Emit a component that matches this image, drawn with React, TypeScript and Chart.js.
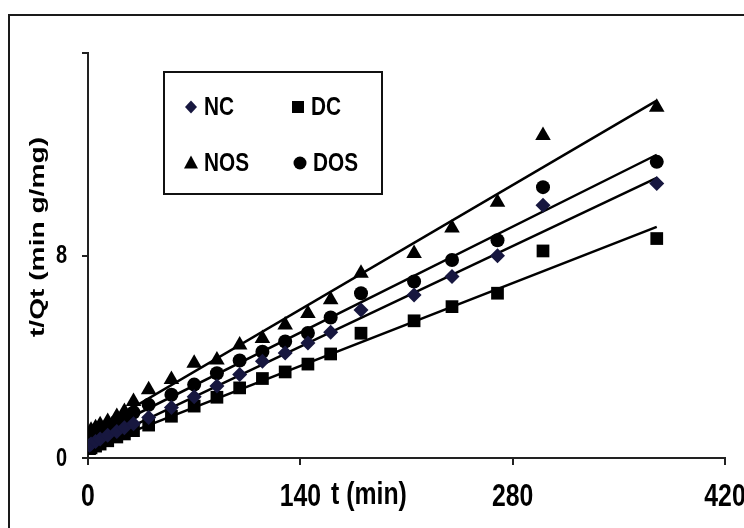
import React, { useEffect, useRef } from 'react';
import { Chart, registerables } from 'chart.js';

Chart.register(...registerables);

// ---- data ----
const times = [1, 2, 5, 8, 13, 19, 24, 30, 40, 55, 70, 85, 100, 115, 130, 145, 160, 180, 215, 240, 270, 300, 375];
const ncValues = [0.5, 0.55, 0.65, 0.75, 0.9, 1.05, 1.2, 1.35, 1.6, 2.0, 2.42, 2.84, 3.3, 3.82, 4.15, 4.54, 4.97, 5.85, 6.44, 7.17, 7.99, 9.99, 10.84];
const dcValues = [0.37, 0.4, 0.47, 0.55, 0.68, 0.83, 0.95, 1.08, 1.3, 1.65, 2.05, 2.4, 2.77, 3.14, 3.4, 3.71, 4.11, 4.93, 5.42, 5.98, 6.51, 8.18, 8.67];
const nosValues = [0.95, 1.1, 1.2, 1.31, 1.44, 1.64, 1.84, 2.23, 2.7, 3.1, 3.74, 3.87, 4.46, 4.72, 5.25, 5.71, 6.25, 7.3, 8.08, 9.09, 10.1, 12.74, 13.86];
const dosValues = [0.7, 0.8, 0.95, 1.1, 1.25, 1.45, 1.6, 1.8, 2.1, 2.5, 2.9, 3.35, 3.85, 4.2, 4.6, 4.94, 5.55, 6.51, 6.97, 7.82, 8.6, 10.7, 11.7];

const seriesLabels = ['NC', 'DC', 'NOS', 'DOS'];
// linear trend lines: value at t = trendT[0] and t = trendT[1]
const trendT = [0, 375];
const trendStart = [0.43, 0.36, 0.95, 0.77];
const trendEnd = [11.07, 9.13, 14.12, 11.98];

const xTicks = [0, 140, 280, 420];
const yTicks = [0, 8, 16];
const yLabelled = [0, 8];
const xTitle = 't (min)';
const yTitle = 't/Qt (min g/mg)';

const FONT = "'Liberation Sans',Arial,sans-serif";
const NAVY = '#17173f';
const SQUEEZE = 0.8; // the reference's lettering is tall and narrow

const styles = [
  { pointStyle: 'rectRot', radius: 7.5, color: NAVY },
  { pointStyle: 'rect', radius: 9, color: '#000' },
  { pointStyle: 'triangle', radius: 9, color: '#000' },
  { pointStyle: 'circle', radius: 7, color: '#000' },
];

function drawMarker(ctx: CanvasRenderingContext2D, kind: string, x: number, y: number) {
  ctx.beginPath();
  if (kind === 'rectRot') {
    ctx.moveTo(x, y - 6.5); ctx.lineTo(x + 6, y); ctx.lineTo(x, y + 6.5); ctx.lineTo(x - 6, y);
  } else if (kind === 'rect') {
    ctx.rect(x - 6, y - 6, 12, 12);
  } else if (kind === 'triangle') {
    ctx.moveTo(x, y - 7.5); ctx.lineTo(x + 7, y + 5.5); ctx.lineTo(x - 7, y + 5.5);
  } else {
    ctx.arc(x, y, 6.5, 0, Math.PI * 2);
  }
  ctx.closePath();
  ctx.fill();
}

function narrowText(ctx: CanvasRenderingContext2D, text: string, x: number, y: number, size: number, align: 'left' | 'center' | 'right') {
  ctx.save();
  ctx.font = `bold ${size}px ${FONT}`;
  ctx.textBaseline = 'middle';
  ctx.textAlign = align;
  ctx.translate(x, y);
  ctx.scale(SQUEEZE, 1);
  ctx.fillText(text, 0, 0);
  ctx.restore();
}

const decor = {
  id: 'decor',
  afterDraw(chart: any) {
    const ctx: CanvasRenderingContext2D = chart.ctx;
    const xs = chart.scales.x;
    const ys = chart.scales.y;
    ctx.save();
    // outer frame
    ctx.strokeStyle = '#1a1a1a';
    ctx.lineWidth = 2;
    ctx.strokeRect(9, 15, 800, 600);

    ctx.fillStyle = '#000';
    // tick labels, placed by the scales
    xs.ticks.forEach((t: any) => {
      narrowText(ctx, String(t.value), xs.getPixelForValue(t.value), xs.bottom - 31, 31, 'center');
    });
    ys.ticks.forEach((t: any) => {
      if (yLabelled.includes(t.value)) {
        narrowText(ctx, String(t.value), ys.right - 21, ys.getPixelForValue(t.value) + 1, 25, 'right');
      }
    });
    // x title
    narrowText(ctx, xTitle, 369, 495, 31, 'center');

    // y title (rotated, stretched along its length)
    ctx.save();
    ctx.translate(38, 237);
    ctx.rotate(-Math.PI / 2);
    ctx.font = `bold 20px ${FONT}`;
    ctx.textAlign = 'center';
    ctx.textBaseline = 'middle';
    const w = ctx.measureText(yTitle).width;
    ctx.scale(200 / w, 1);
    ctx.fillText(yTitle, 0, 0);
    ctx.restore();

    // legend box
    ctx.lineWidth = 2;
    ctx.strokeStyle = '#111';
    ctx.strokeRect(164, 72, 218, 122);
    const pos = [[191, 107], [298, 107], [191, 163], [300, 163]];
    seriesLabels.forEach((lab, i) => {
      const [x, y] = pos[i];
      ctx.fillStyle = styles[i].color;
      drawMarker(ctx, styles[i].pointStyle, x, y);
      ctx.fillStyle = '#000';
      narrowText(ctx, lab, x + 13, y + 1, 26, 'left');
    });
    ctx.restore();
  },
};

export default function App() {
  const ref = useRef<HTMLCanvasElement | null>(null);
  useEffect(() => {
    if (!ref.current) return;
    const series = [ncValues, dcValues, nosValues, dosValues];
    const trendSets = series.map((_, i) => ({
      type: 'line' as const,
      label: seriesLabels[i] + ' fit',
      data: [{ x: trendT[0], y: trendStart[i] }, { x: trendT[1], y: trendEnd[i] }],
      borderColor: '#000',
      borderWidth: 2.5,
      pointRadius: 0,
      showLine: true,
      fill: false,
    }));
    const pointSets = series.map((vals, i) => ({
      type: 'scatter' as const,
      label: seriesLabels[i],
      data: times.map((t, j) => ({ x: t, y: vals[j] })),
      pointStyle: styles[i].pointStyle,
      pointRadius: styles[i].radius,
      backgroundColor: styles[i].color,
      borderColor: styles[i].color,
      borderWidth: 0,
      showLine: false,
    }));
    const chart = new Chart(ref.current, {
      type: 'scatter',
      data: { datasets: [...pointSets, ...trendSets] as any },
      plugins: [decor],
      options: {
        animation: false,
        responsive: false,
        devicePixelRatio: 1,
        layout: { padding: { top: 53, right: 19, left: 0, bottom: 0 } },
        plugins: { legend: { display: false }, tooltip: { enabled: false } },
        scales: {
          x: {
            type: 'linear',
            min: 0,
            max: 420,
            afterBuildTicks: (s: any) => { s.ticks = xTicks.map((v) => ({ value: v })); },
            afterFit: (s: any) => { s.height = 70; s.paddingLeft = 0; s.paddingRight = 0; },
            ticks: { display: false },
            grid: { drawOnChartArea: false, drawTicks: true, tickLength: 7, color: '#222', lineWidth: 2 },
            border: { display: true, color: '#222', width: 2 },
          },
          y: {
            type: 'linear',
            min: 0,
            max: 16,
            afterBuildTicks: (s: any) => { s.ticks = yTicks.map((v) => ({ value: v })); },
            afterFit: (s: any) => { s.width = 88; s.paddingTop = 0; s.paddingBottom = 0; },
            ticks: { display: false },
            grid: { drawOnChartArea: false, drawTicks: true, tickLength: 6, color: '#222', lineWidth: 2 },
            border: { display: true, color: '#222', width: 2 },
          },
        },
      } as any,
    });
    return () => chart.destroy();
  }, []);
  return (
    <div style={{ position: 'absolute', left: 0, top: 0, width: 744, height: 528, background: '#fff' }}>
      <canvas ref={ref} width={744} height={528} style={{ display: 'block' }} />
    </div>
  );
}
